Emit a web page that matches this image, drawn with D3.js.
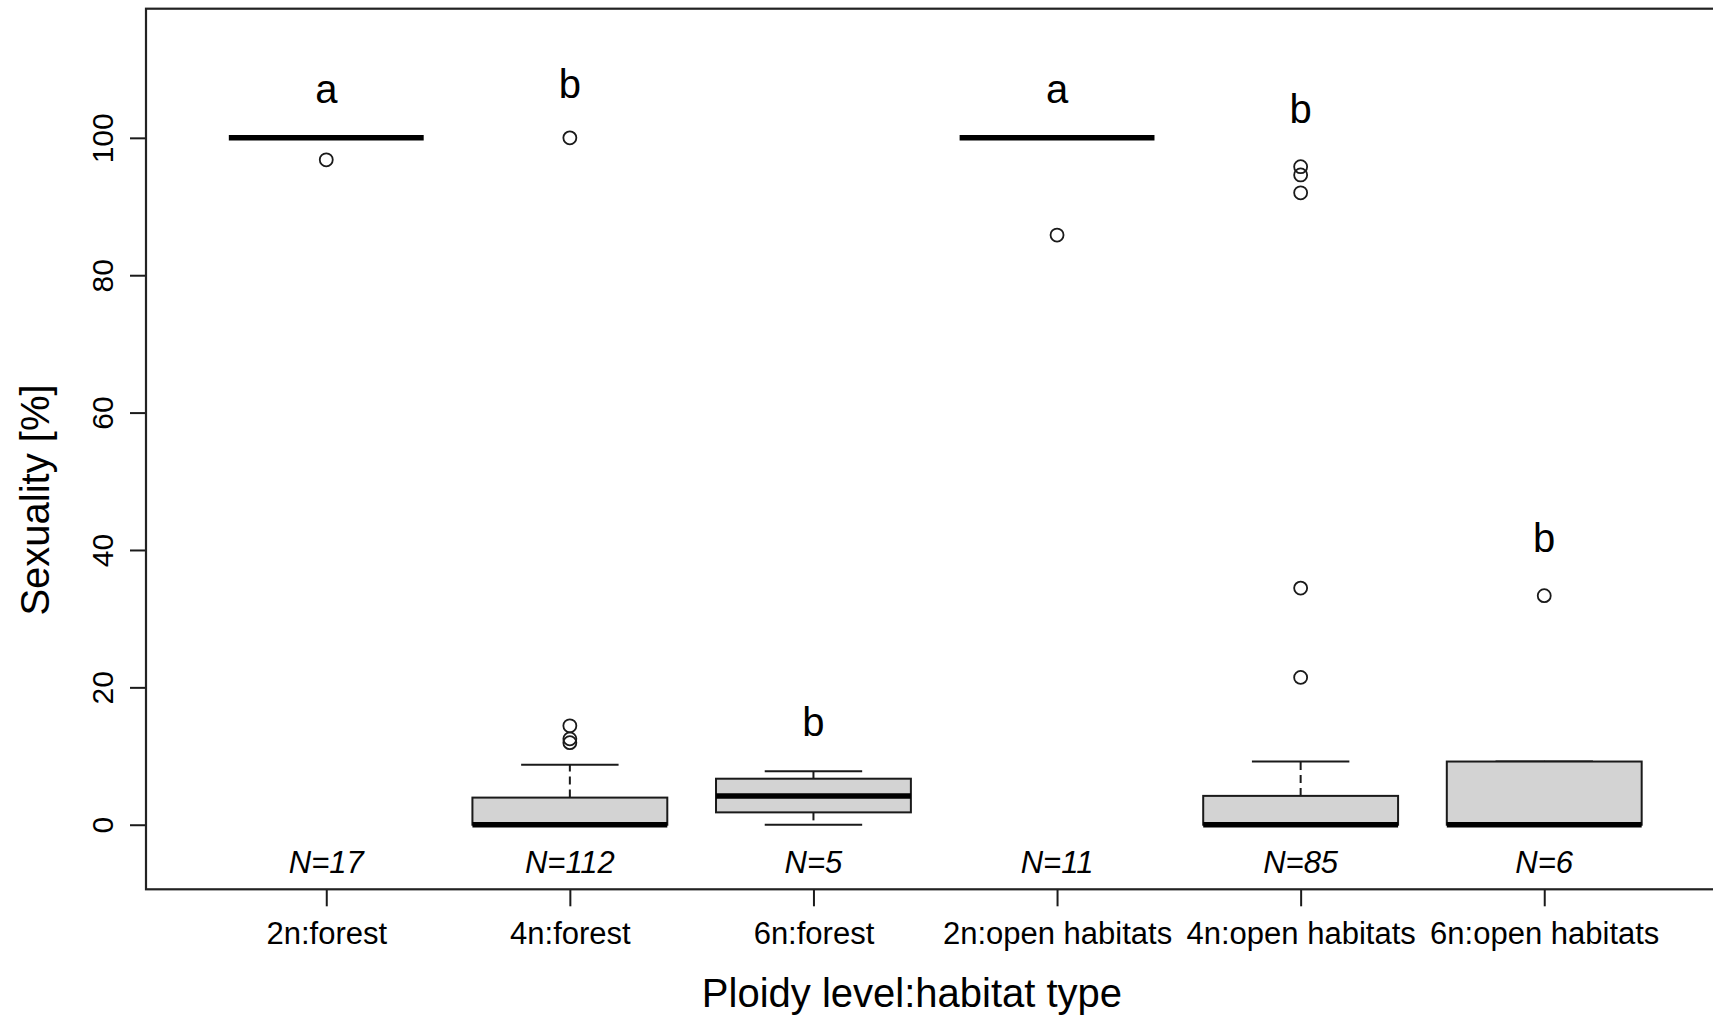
<!DOCTYPE html>
<html>
<head>
<meta charset="utf-8">
<script src="https://cdn.jsdelivr.net/npm/d3@7"></script>
<style>
  html, body { margin: 0; padding: 0; background: #ffffff; }
  svg { display: block; font-family: "Liberation Sans", Arial, Helvetica, sans-serif; }
</style>
</head>
<body>
<svg id="chart" width="1713" height="1016"></svg>
<script>
// Sexuality (%) per ploidy level and habitat type: boxplot statistics
const categories = ["2n:forest", "4n:forest", "6n:forest", "2n:open habitats", "4n:open habitats", "6n:open habitats"];
const lowerWhisker = [100, 0, 0, 100, 0, 0];
const lowerQuartile = [100, 0, 1.8, 100, 0, 0];
const medians = [100, 0, 4.2, 100, 0, 0];
const upperQuartile = [100, 3.95, 6.7, 100, 4.2, 9.2];
const upperWhisker = [100, 8.75, 7.8, 100, 9.2, 9.2];
const outliers = [
  [96.8],
  [100, 14.4, 12.5, 11.95],
  [],
  [85.85],
  [95.8, 94.6, 92.0, 34.45, 21.45],
  [33.35]
];
const sampleSizes = [17, 112, 5, 11, 85, 6];
const groupLetters = ["a", "b", "b", "a", "b", "b"];
const letterLevels = [105.0, 105.8, 12.9, 105.0, 102.1, 39.7];
const yTicks = [0, 20, 40, 60, 80, 100];

const svg = d3.select("#chart");
const ink = "#1a1a1a";

// Scales: groups sit at positions 1..6
const x = d3.scaleLinear().domain([0.26, 6.74]).range([146, 1724.5]);
const y = d3.scaleLinear().domain([-9.4, 118.8]).range([889.3, 8.7]);
const boxHalf = 0.4, stapleHalf = 0.2;

const groups = categories.map((c, i) => ({
  name: c, pos: i + 1,
  lo: lowerWhisker[i], q1: lowerQuartile[i], med: medians[i],
  q3: upperQuartile[i], hi: upperWhisker[i],
  out: outliers[i], n: sampleSizes[i],
  letter: groupLetters[i], letterY: letterLevels[i]
}));

const plot = svg.append("g");

const g = plot.selectAll("g.box").data(groups).enter().append("g").attr("class", "box");

// whiskers (dashed)
g.append("line")
  .attr("x1", d => x(d.pos)).attr("x2", d => x(d.pos))
  .attr("y1", d => y(d.q3)).attr("y2", d => y(d.hi))
  .attr("stroke", ink).attr("stroke-width", 2).attr("stroke-dasharray", "8,5");
g.append("line")
  .attr("x1", d => x(d.pos)).attr("x2", d => x(d.pos))
  .attr("y1", d => y(d.q1)).attr("y2", d => y(d.lo))
  .attr("stroke", ink).attr("stroke-width", 2).attr("stroke-dasharray", "8,5");

// staples
g.append("line")
  .attr("x1", d => x(d.pos - stapleHalf)).attr("x2", d => x(d.pos + stapleHalf))
  .attr("y1", d => y(d.hi)).attr("y2", d => y(d.hi))
  .attr("stroke", ink).attr("stroke-width", 2);
g.append("line")
  .attr("x1", d => x(d.pos - stapleHalf)).attr("x2", d => x(d.pos + stapleHalf))
  .attr("y1", d => y(d.lo)).attr("y2", d => y(d.lo))
  .attr("stroke", ink).attr("stroke-width", 2);

// boxes
g.append("rect")
  .attr("x", d => x(d.pos - boxHalf))
  .attr("width", d => x(d.pos + boxHalf) - x(d.pos - boxHalf))
  .attr("y", d => y(d.q3))
  .attr("height", d => Math.max(0, y(d.q1) - y(d.q3)))
  .attr("fill", "#d3d3d3").attr("stroke", ink).attr("stroke-width", 2);

// medians
g.append("line")
  .attr("x1", d => x(d.pos - boxHalf)).attr("x2", d => x(d.pos + boxHalf))
  .attr("y1", d => y(d.med)).attr("y2", d => y(d.med))
  .attr("stroke", "#000").attr("stroke-width", 5.5);

// outliers
g.selectAll("circle").data(d => d.out.map(v => ({ pos: d.pos, v })))
  .enter().append("circle")
  .attr("cx", d => x(d.pos)).attr("cy", d => y(d.v)).attr("r", 6.5)
  .attr("fill", "none").attr("stroke", ink).attr("stroke-width", 1.8);

// significance letters
g.append("text")
  .attr("x", d => x(d.pos)).attr("y", d => y(d.letterY))
  .attr("text-anchor", "middle").attr("font-size", 40).attr("fill", "#000")
  .text(d => d.letter);

// sample sizes
g.append("text")
  .attr("x", d => x(d.pos)).attr("y", y(-5)).attr("dy", "0.45em")
  .attr("text-anchor", "middle").attr("font-size", 31).attr("font-style", "italic").attr("fill", "#000")
  .text(d => "N=" + d.n);

// y axis
const yAxis = svg.append("g").attr("transform", "translate(146,0)")
  .call(d3.axisLeft(y).tickValues(yTicks).tickSize(16).tickFormat(d3.format("d")));
yAxis.select(".domain").remove();
yAxis.selectAll(".tick line").attr("stroke", ink).attr("stroke-width", 2);
yAxis.selectAll(".tick text")
  .attr("x", null).attr("dy", null).attr("y", 0)
  .attr("text-anchor", "middle").attr("font-size", 30).attr("fill", "#000")
  .attr("font-family", "\"Liberation Sans\", Arial, sans-serif")
  .attr("transform", "translate(-33,0) rotate(-90)");

// x axis
const xAxis = svg.append("g").attr("transform", "translate(0,889.3)")
  .call(d3.axisBottom(x).tickValues(d3.range(1, categories.length + 1)).tickSize(17)
    .tickFormat(i => categories[i - 1]));
xAxis.select(".domain").remove();
xAxis.selectAll(".tick line").attr("stroke", ink).attr("stroke-width", 2);
xAxis.selectAll(".tick text")
  .attr("y", 55).attr("dy", null)
  .attr("font-size", 31).attr("fill", "#000")
  .attr("font-family", "\"Liberation Sans\", Arial, sans-serif");

// frame
svg.append("rect")
  .attr("x", x.range()[0]).attr("y", y.range()[1])
  .attr("width", x.range()[1] - x.range()[0])
  .attr("height", y.range()[0] - y.range()[1])
  .attr("fill", "none").attr("stroke", "#222").attr("stroke-width", 2.2);

// axis titles
svg.append("text")
  .attr("x", 912).attr("y", 1007)
  .attr("text-anchor", "middle").attr("font-size", 40).attr("fill", "#000")
  .text("Ploidy level:habitat type");
svg.append("text")
  .attr("transform", "translate(49,500) rotate(-90)")
  .attr("text-anchor", "middle").attr("font-size", 40).attr("fill", "#000")
  .text("Sexuality [%]");
</script>
</body>
</html>
